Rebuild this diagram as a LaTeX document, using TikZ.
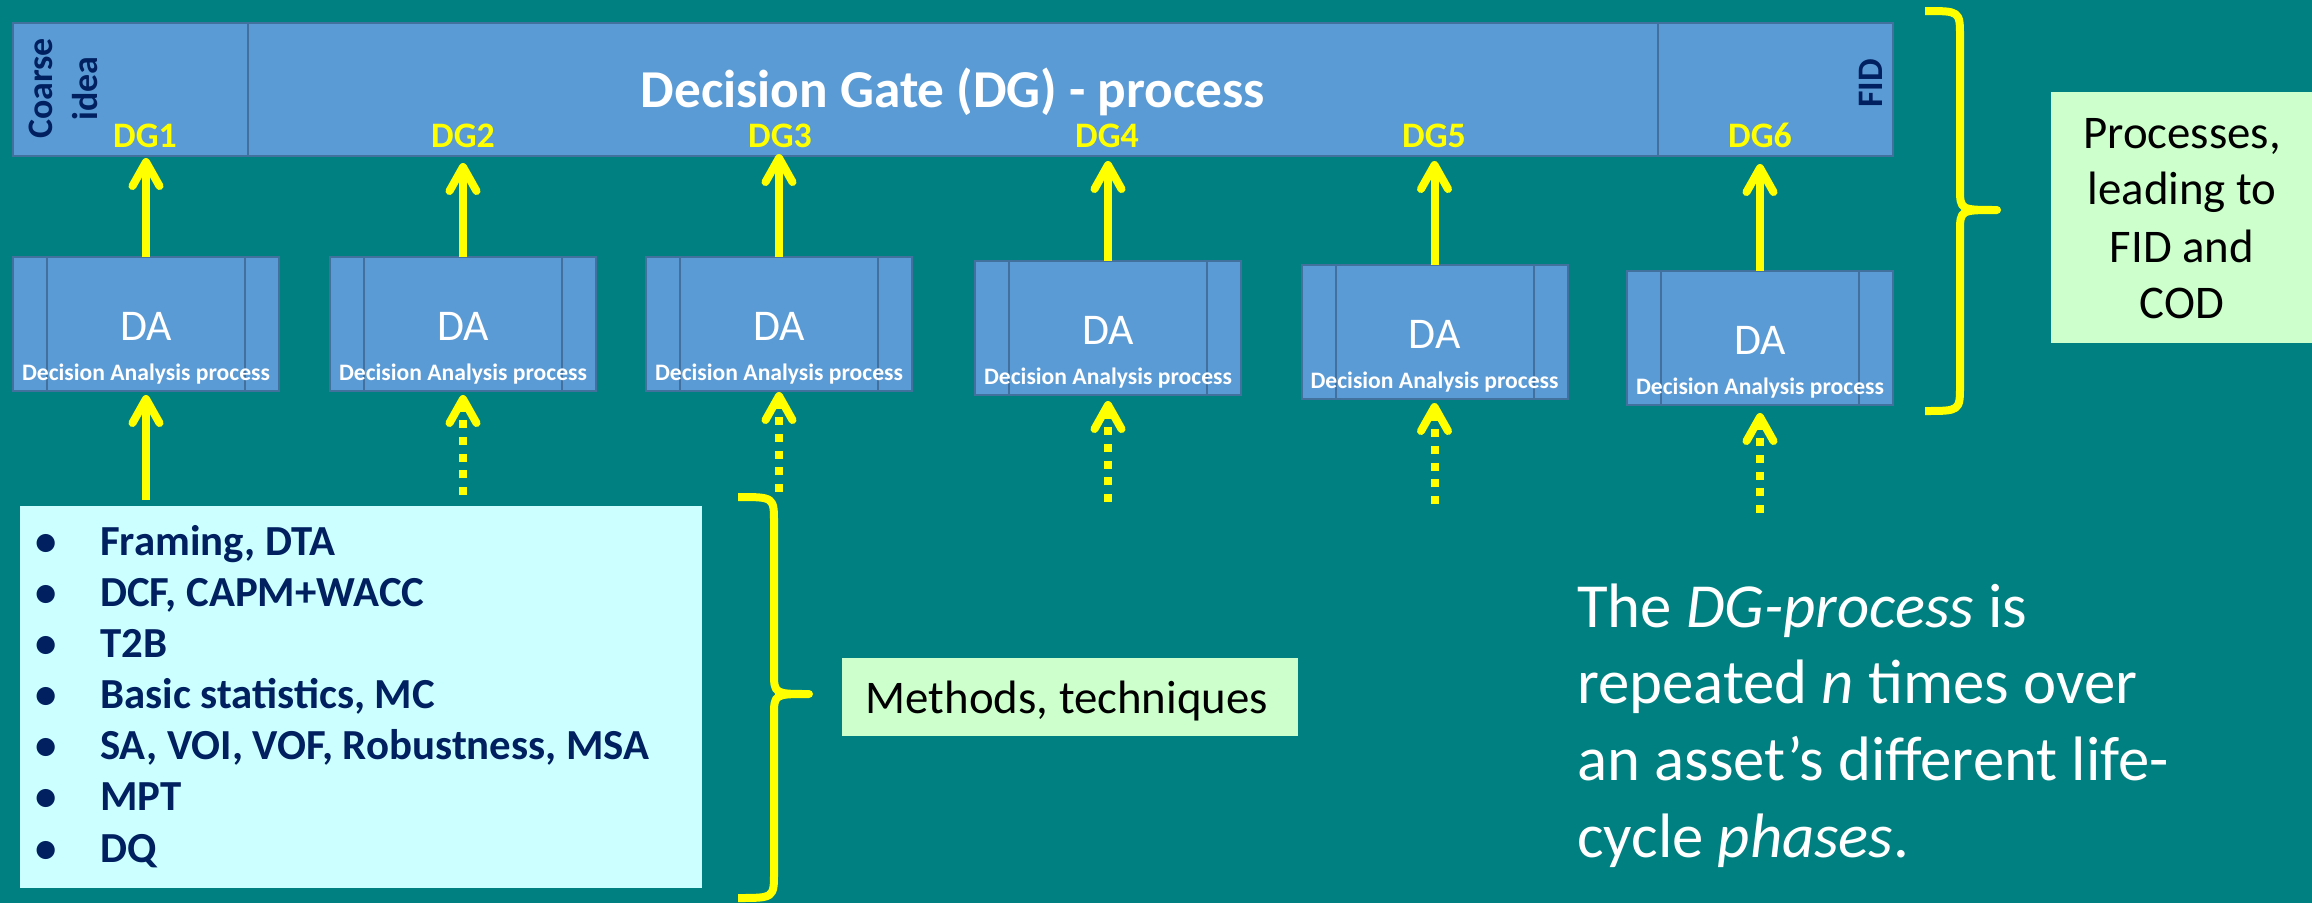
\documentclass[tikz,border=0pt]{standalone}
\usepackage{fontspec}
\setmainfont{Carlito}
\usetikzlibrary{arrows.meta,calc}
\definecolor{bg}{RGB}{0,128,128}
\definecolor{boxblue}{RGB}{91,155,213}
\definecolor{boxedge}{RGB}{65,113,156}
\definecolor{navy}{RGB}{0,32,96}
\definecolor{yel}{RGB}{255,255,0}
\definecolor{lgreen}{RGB}{204,255,204}
\definecolor{lcyan}{RGB}{204,255,255}
\begin{document}
\begin{tikzpicture}[x=1bp,y=-1bp,
  bluebox/.style={draw=boxedge, fill=boxblue, line width=2bp, inner sep=0pt, outer sep=0pt},
  dabox/.style={bluebox, minimum width=266bp, minimum height=134bp, anchor=north},
  edgeline/.style={draw=boxedge, line width=2bp},
  daletters/.style={text=white, font=\fontsize{44}{50}\selectfont, anchor=base, inner sep=0pt},
  dasub/.style={text=white, font=\bfseries\fontsize{23.7}{26}\selectfont, anchor=base, inner sep=0pt},
  dglabel/.style={text=yel, font=\bfseries\fontsize{36}{40}\selectfont, anchor=base, inner sep=0pt},
  vlabel/.style={text=navy, font=\bfseries\fontsize{36}{40}\selectfont, rotate=90, anchor=base, inner sep=0pt},
  uparrow/.style={draw=yel, line width=8bp, -{Straight Barb[length=24bp,width=27bp,round]}},
  dotarrow/.style={uparrow, dash pattern=on 8bp off 8.7bp},
  brace/.style={draw=yel, line width=8bp, line join=round},
  note/.style={fill=lgreen, inner sep=0pt, outer sep=0pt},
  notetext/.style={text=black, font=\fontsize{47}{56}\selectfont, anchor=base, inner sep=0pt},
  item/.style={text=navy, font=\bfseries\fontsize{43}{51}\selectfont, anchor=base west, inner sep=0pt},
  bigtext/.style={text=white, font=\fontsize{63}{76}\selectfont, anchor=base west, inner sep=0pt}
]
\useasboundingbox (0,0) rectangle (2312,903);
\fill[bg] (0,0) rectangle (2312,903);

% top bar
\node[bluebox, minimum width=1880bp, minimum height=133bp, anchor=north west] (bar) at (13,23) {};
\draw[edgeline] ($(bar.north west)+(235,0)$) -- ($(bar.south west)+(235,0)$);
\draw[edgeline] ($(bar.north west)+(1645,0)$) -- ($(bar.south west)+(1645,0)$);
\node[text=white, font=\bfseries\fontsize{53.5}{60}\selectfont, anchor=base, inner sep=0pt] (title) at (953,107) {Decision Gate (DG) - process};
\node[vlabel] (coarse) at (52,88.5) {Coarse};
\node[vlabel] (idea) at (97,88.5) {idea};
\node[vlabel] (fid) at (1882,83.5) {FID};
\foreach \i/\x in {1/145,2/463,3/780,4/1107,5/1434,6/1760}
  \node[dglabel] (dg\i) at (\x,147) {DG\i};

% DA boxes
\foreach \i/\x/\t in {1/146/257,2/463/257,3/779/257,4/1108/261,5/1434.5/265,6/1760/271} {
  \node[dabox] (da\i) at (\x,\t) {};
  \draw[edgeline] ($(da\i.north west)+(34,0)$) -- ($(da\i.south west)+(34,0)$);
  \draw[edgeline] ($(da\i.north east)+(-34,0)$) -- ($(da\i.south east)+(-34,0)$);
  \node[daletters] (dat\i) at ($(da\i.north)+(0,83)$) {DA};
  \node[dasub] (das\i) at ($(da\i.north)+(0,123)$) {Decision Analysis process};
}

% arrows DA -> DG
\foreach \i/\g in {1/2,2/7,3/-2,4/5,5/5,6/8}
  \draw[uparrow, shorten >=\g bp] (da\i.north) -- (da\i.north |- bar.south);

% methods box
\node[fill=lcyan, inner sep=0pt, outer sep=0pt, minimum width=682bp, minimum height=382bp, anchor=north west] (methods) at (20,506) {};
\foreach \j/\txt in {1/{Framing, DTA},2/{DCF, CAPM+WACC},3/{T2B},4/{Basic statistics, MC},5/{SA, VOI, VOF, Robustness, MSA},6/{MPT},7/{DQ}} {
  \node[item, anchor=base] (bul\j) at (46.5,{555+(\j-1)*51.17}) {\textbullet};
  \node[item] (itm\j) at (100,{555+(\j-1)*51.17}) {\txt};
}

% arrows methods -> DA
\coordinate (src1) at (146,500);
\draw[uparrow, shorten >=4bp] (src1) -- (src1 |- da1.south);
\foreach \i/\x/\t/\g in {2/463/495/4,3/779/492/1,4/1108/502/6,5/1434.5/504/4,6/1760/513/8} {
  \coordinate (src\i) at (\x,\t);
  \draw[dotarrow, shorten >=\g bp] (src\i) -- (src\i |- da\i.south);
}

% braces
\draw[brace] (1925,11) .. controls (1960,11) .. (1960,37) -- (1960,188)
  .. controls (1960,210) .. (1997,210) .. controls (1960,210) .. (1960,232)
  -- (1960,385) .. controls (1960,411) .. (1925,411);
\draw[brace] (738,497) .. controls (774,497) .. (774,523) -- (774,672)
  .. controls (774,694) .. (809,694) .. controls (774,694) .. (774,716)
  -- (774,872) .. controls (774,898) .. (738,898);

% notes
\node[note, minimum width=456bp, minimum height=78bp, anchor=north west] (mtbox) at (842,658) {};
\node[notetext] (mttext) at (1067,713) {Methods, techniques};
\node[note, minimum width=261bp, minimum height=251bp, anchor=north west] (procbox) at (2051,92) {};
\foreach \k/\y/\txt in {1/148/{Processes,},2/204/{leading to},3/262/{FID and},4/318/{COD}}
  \node[notetext] (proc\k) at (2182,\y) {\txt};

% right text
\node[bigtext] (rt1) at (1577,627) {The \textit{DG-process} is};
\node[bigtext] (rt2) at (1577,703) {repeated \textit{n} times over};
\node[bigtext] (rt3) at (1577,780) {an asset’s different life-};
\node[bigtext] (rt4) at (1577,857) {cycle \textit{phases}.};
\end{tikzpicture}
\end{document}
